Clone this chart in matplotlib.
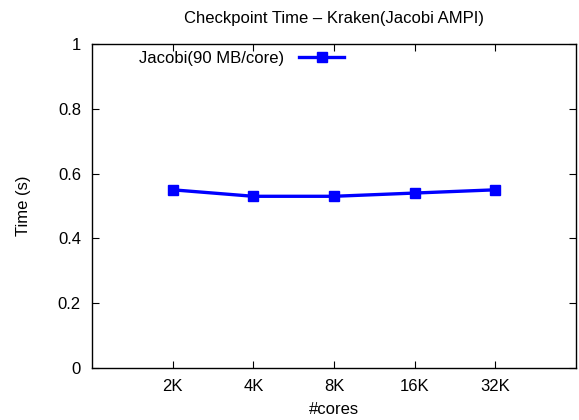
import matplotlib
matplotlib.use("Agg")
import matplotlib.pyplot as plt

plt.rcParams['font.family'] = ['Liberation Sans', 'DejaVu Sans']

# checkpoint time per core count
cores = ["2K", "4K", "8K", "16K", "32K"]
times = [0.55, 0.53, 0.53, 0.54, 0.55]
series_label = "Jacobi(90 MB/core)"

fs = 12

fig = plt.figure(figsize=(5.79, 4.2), dpi=100)
ax = fig.add_axes([0.1589, 0.1238, 0.8359, 0.7714])

xs = list(range(1, len(cores) + 1))
ax.plot(xs, times, color="#0000ff", lw=2.4, marker="s", ms=6.5, label=series_label)

ax.set_xlim(0, 6)
ax.set_ylim(0, 1)
ax.set_xticks(xs)
ax.set_xticklabels(cores)
ax.set_yticks([0, 0.2, 0.4, 0.6, 0.8, 1])
ax.set_yticklabels(["0", "0.2", "0.4", "0.6", "0.8", "1"])
ax.tick_params(direction="in", top=True, right=True, length=5, labelsize=fs, pad=8)
for s in ax.spines.values():
    s.set_linewidth(1.0)

ax.set_xlabel("#cores", fontsize=fs, labelpad=6)
ax.set_ylabel("Time (s)", fontsize=fs, labelpad=19)
ax.set_title("Checkpoint Time \u2013 Kraken(Jacobi AMPI)", fontsize=fs, pad=15)

leg = ax.legend(loc="upper left", bbox_to_anchor=(0.072, 1.015), frameon=False,
                markerfirst=False, handlelength=2.75, handletextpad=0.9,
                fontsize=fs, borderaxespad=0.3)

fig.savefig("out.png", dpi=100)
